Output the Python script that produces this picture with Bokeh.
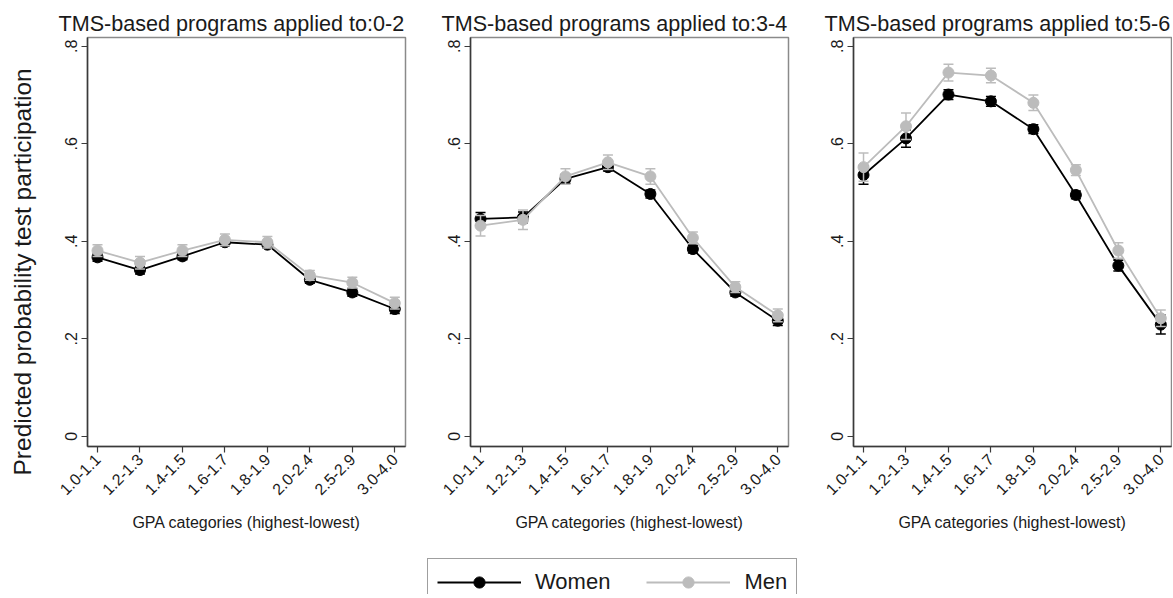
from math import pi
from bokeh.plotting import figure
from bokeh.models import ColumnDataSource, FixedTicker, Legend, LegendItem, Title
from bokeh.layouts import row, column
from bokeh.embed import file_html
from bokeh.resources import INLINE

# ---------------- data ----------------
gpa_labels = ["1.0-1.1", "1.2-1.3", "1.4-1.5", "1.6-1.7", "1.8-1.9", "2.0-2.4", "2.5-2.9", "3.0-4.0"]
panel_titles = ["TMS-based programs applied to:0-2",
                "TMS-based programs applied to:3-4",
                "TMS-based programs applied to:5-6"]
y_title = "Predicted probability test participation"
x_title = "GPA categories (highest-lowest)"

women_0_2 = [0.367, 0.341, 0.369, 0.398, 0.393, 0.321, 0.295, 0.261]
women_0_2_ci = [0.008, 0.008, 0.007, 0.007, 0.007, 0.007, 0.008, 0.009]
men_0_2 = [0.381, 0.356, 0.381, 0.403, 0.398, 0.330, 0.315, 0.273]
men_0_2_ci = [0.012, 0.013, 0.012, 0.012, 0.012, 0.010, 0.011, 0.012]

women_3_4 = [0.446, 0.449, 0.528, 0.552, 0.497, 0.384, 0.295, 0.237]
women_3_4_ci = [0.013, 0.011, 0.009, 0.008, 0.008, 0.008, 0.008, 0.010]
men_3_4 = [0.432, 0.444, 0.533, 0.562, 0.533, 0.407, 0.306, 0.248]
men_3_4_ci = [0.021, 0.020, 0.016, 0.015, 0.016, 0.012, 0.011, 0.013]

women_5_6 = [0.536, 0.611, 0.701, 0.687, 0.630, 0.495, 0.350, 0.229]
women_5_6_ci = [0.019, 0.018, 0.010, 0.010, 0.009, 0.008, 0.011, 0.019]
men_5_6 = [0.552, 0.636, 0.746, 0.740, 0.684, 0.546, 0.381, 0.242]
men_5_6_ci = [0.029, 0.027, 0.017, 0.015, 0.016, 0.011, 0.016, 0.017]

y_ticks = [0, 0.2, 0.4, 0.6, 0.8]
y_tick_labels = ["0", ".2", ".4", ".6", ".8"]

series_names = ["Women", "Men"]
series_colors = ["#000000", "#bcbcbc"]

FONT = "Liberation Sans"
TEXT = "#1a1a1a"
AXIS = "#3a3a3a"
FRAME = "#8a8a8a"

PANEL_H = 545  # total height of each panel figure


def make_panel(title, women, women_ci, men, men_ci, left, right):
    p = figure(frame_width=318, frame_height=409,
               x_range=(-0.236, 7.252), y_range=(-0.021, 0.818),
               output_backend="svg", toolbar_location=None,
               min_border_left=left, min_border_right=right,
               min_border_top=37, min_border_bottom=99,
               background_fill_color="white", border_fill_color="white",
               outline_line_color=FRAME, outline_line_width=1.5,
               title=Title(text=title, align="left", offset=-29, standoff=4,
                           text_font=FONT, text_font_size="21.6px",
                           text_font_style="normal", text_color=TEXT))
    p.grid.visible = False

    xa = p.xaxis[0]
    xa.ticker = FixedTicker(ticks=list(range(len(gpa_labels))))
    xa.major_label_overrides = {i: lab for i, lab in enumerate(gpa_labels)}
    xa.major_label_orientation = pi / 4
    xa.axis_label = x_title
    xa.axis_label_text_font = FONT
    xa.axis_label_text_font_size = "16px"
    xa.axis_label_text_font_style = "normal"
    xa.axis_label_text_color = TEXT
    xa.axis_label_standoff = 11

    ya = p.yaxis[0]
    ya.ticker = FixedTicker(ticks=y_ticks)
    ya.major_label_overrides = {t: lab for t, lab in zip(y_ticks, y_tick_labels)}
    ya.major_label_orientation = "vertical"

    for ax in (xa, ya):
        ax.major_label_text_font = FONT
        ax.major_label_text_font_size = "16px"
        ax.major_label_text_color = TEXT
        ax.major_label_standoff = 4
        ax.axis_line_color = AXIS
        ax.axis_line_width = 1.5
        ax.major_tick_line_color = AXIS
        ax.major_tick_line_width = 1.2
        ax.major_tick_in = 0
        ax.major_tick_out = 6
        ax.minor_tick_line_color = None

    for vals, ci, color in ((women, women_ci, series_colors[0]), (men, men_ci, series_colors[1])):
        src = ColumnDataSource(dict(
            x=list(range(len(vals))), y=vals,
            lo=[v - c for v, c in zip(vals, ci)],
            hi=[v + c for v, c in zip(vals, ci)]))
        p.segment(x0="x", y0="lo", x1="x", y1="hi", source=src, line_color=color, line_width=1.5)
        p.scatter("x", "lo", source=src, marker="dash", size=10, line_color=color, line_width=1.5)
        p.scatter("x", "hi", source=src, marker="dash", size=10, line_color=color, line_width=1.5)
        p.line("x", "y", source=src, line_color=color, line_width=1.8)
        p.scatter("x", "y", source=src, marker="circle", size=11, fill_color=color, line_color=color)
    return p


# narrow strip carrying the shared y-axis title (as a side title, not clipped by the frame)
ylab = figure(width=46, height=PANEL_H, output_backend="svg", toolbar_location=None,
              min_border=0, x_axis_type=None, y_axis_type=None, outline_line_color=None,
              background_fill_color="white", border_fill_color="white")
ylab.grid.visible = False
ylab.add_layout(Title(text=y_title, align="left", offset=-29, vertical_align="middle",
                      standoff=14, text_font=FONT, text_font_size="24.5px",
                      text_font_style="normal", text_color=TEXT), "left")

p1 = make_panel(panel_titles[0], women_0_2, women_0_2_ci, men_0_2, men_0_2_ci, 41, 25)
p2 = make_panel(panel_titles[1], women_3_4, women_3_4_ci, men_3_4, men_3_4_ci, 40, 25)
p3 = make_panel(panel_titles[2], women_5_6, women_5_6_ci, men_5_6, men_5_6_ci, 40, 1)

# ---------------- legend strip ----------------
leg = figure(width=1172, height=49, output_backend="svg", toolbar_location=None,
             min_border=0, x_axis_type=None, y_axis_type=None,
             outline_line_color=None, background_fill_color="white", border_fill_color="white")
leg.grid.visible = False
items = []
nan = float("nan")
for name, color in zip(series_names, series_colors):
    rl = leg.line(x=[nan], y=[nan], line_color=color, line_width=1.8)
    rs = leg.scatter(x=[nan], y=[nan], marker="circle", size=11, fill_color=color, line_color=color)
    items.append(LegendItem(label=name, renderers=[rl, rs]))
legend = Legend(items=items, orientation="horizontal", location=(427, -12),
                glyph_width=84, glyph_height=28, label_height=28, label_standoff=14,
                spacing=36, padding=9, margin=0,
                border_line_color="#404040", border_line_width=1.5,
                label_text_font=FONT, label_text_font_size="22px", label_text_color=TEXT,
                background_fill_color="white")
leg.add_layout(legend)

layout = column(row(ylab, p1, p2, p3), leg)
open("out.html", "w").write(file_html(layout, INLINE))
